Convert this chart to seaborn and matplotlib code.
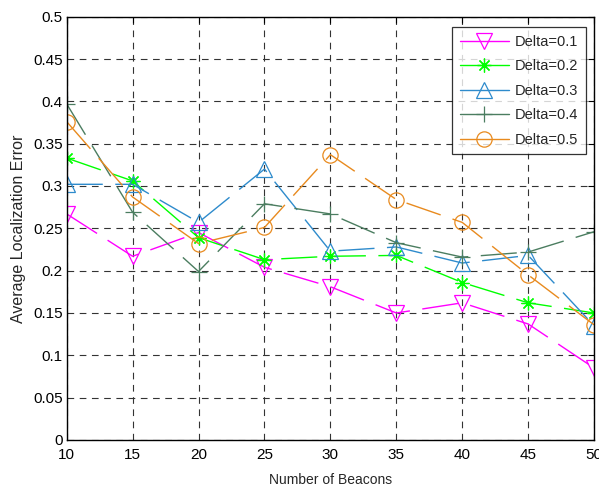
import matplotlib
matplotlib.use("Agg")
import matplotlib.pyplot as plt
from matplotlib.lines import Line2D
import seaborn as sns
import pandas as pd

beacons = [10, 15, 20, 25, 30, 35, 40, 45, 50]
delta_01 = [0.267, 0.217, 0.245, 0.204, 0.181, 0.150, 0.162, 0.137, 0.085]
delta_02 = [0.333, 0.306, 0.239, 0.213, 0.217, 0.218, 0.186, 0.162, 0.150]
delta_03 = [0.302, 0.302, 0.257, 0.320, 0.223, 0.228, 0.209, 0.218, 0.135]
delta_04 = [0.397, 0.269, 0.199, 0.279, 0.267, 0.233, 0.216, 0.222, 0.246]
delta_05 = [0.376, 0.287, 0.232, 0.251, 0.337, 0.284, 0.257, 0.195, 0.136]
labels = ["Delta=0.1", "Delta=0.2", "Delta=0.3", "Delta=0.4", "Delta=0.5"]
xticks = [10, 15, 20, 25, 30, 35, 40, 45, 50]
yticks = [0, 0.05, 0.1, 0.15, 0.2, 0.25, 0.3, 0.35, 0.4, 0.45, 0.5]

colors = ["#ff00ff", "#00ff00", "#2e8bcc", "#4b7d60", "#e88a1e"]
markers = ["v", (8, 2, 0), "^", "+", "o"]
msizes = [11, 10, 11, 12, 11]

sns.set_style("white")
plt.rcParams['font.family'] = ['Liberation Sans', 'DejaVu Sans']

fig = plt.figure(figsize=(5.99, 4.86), dpi=100)
ax = fig.add_axes([0.1113, 0.0947, 0.8805, 0.8710])

series = [delta_01, delta_02, delta_03, delta_04, delta_05]
handles = []
for vals, lab, c, m, ms in zip(series, labels, colors, markers, msizes):
    df = pd.DataFrame({"x": beacons, "y": vals})
    sns.lineplot(data=df, x="x", y="y", ax=ax, color=c, marker=m, markersize=ms,
                 fillstyle="none", markeredgecolor=c, markeredgewidth=0.9,
                 linewidth=1.0, linestyle=(0, (26, 9)), legend=False)
    handles.append(Line2D([0], [0], color=c, marker=m, markersize=ms, fillstyle="none",
                          markeredgecolor=c, markeredgewidth=0.9, linewidth=1.0))

ax.set_xlim(10, 50)
ax.set_ylim(0, 0.5)
ax.set_xticks(xticks)
ax.set_yticks(yticks)
ax.set_xticklabels([str(t) for t in xticks])
ax.set_yticklabels(["0", "0.05", "0.1", "0.15", "0.2", "0.25", "0.3", "0.35", "0.4", "0.45", "0.5"])
ax.grid(True, color="#333333", linestyle=(0, (6, 5)), linewidth=0.8)
ax.tick_params(direction="in", length=4, width=0.8, top=True, right=True,
               labelsize=11, colors="black", pad=3)
ax.tick_params(axis="x", pad=6)
for s in ax.spines.values():
    s.set_color("black")
    s.set_linewidth(1.0)
ax.set_xlabel("Number of Beacons", fontsize=10, labelpad=8)
ax.set_ylabel("Average Localization Error", fontsize=11.5, labelpad=5)

leg = ax.legend(handles, labels, loc="upper right", bbox_to_anchor=(0.998, 0.992),
                fontsize=10.5, frameon=True, fancybox=False, edgecolor="black",
                handlelength=3.4, borderpad=0.5, labelspacing=0.72, handletextpad=0.4,
                borderaxespad=0.5)
leg.get_frame().set_linewidth(0.9)

fig.savefig("out.png", dpi=100)
